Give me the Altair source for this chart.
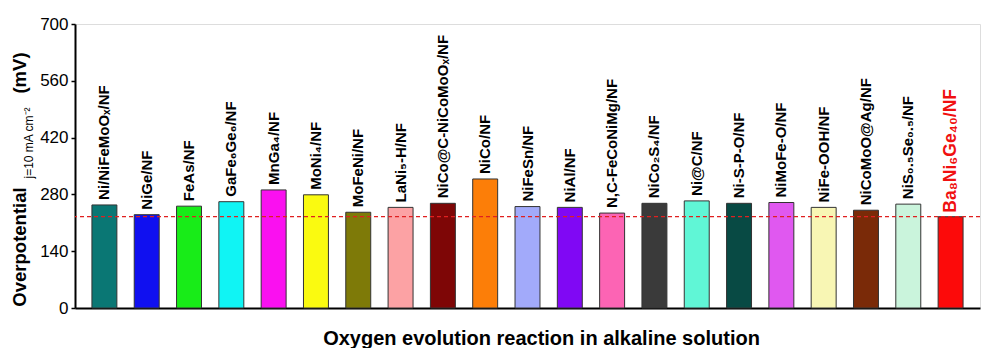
import altair as alt
import pandas as pd

labels = ["Ni/NiFeMoOₓ/NF", "NiGe/NF", "FeAs/NF", "GaFe₆Ge₆/NF", "MnGa₄/NF",
          "MoNi₄/NF", "MoFeNi/NF", "LaNi₅-H/NF", "NiCo@C-NiCoMoOₓ/NF", "NiCo/NF",
          "NiFeSn/NF", "NiAl/NF", "N,C-FeCoNiMg/NF", "NiCo₂S₄/NF", "Ni@C/NF",
          "Ni-S-P-O/NF", "NiMoFe-O/NF", "NiFe-OOH/NF", "NiCoMoO@Ag/NF",
          "NiS₀.₅Se₀.₅/NF", "Ba₈Ni₆Ge₄₀/NF"]
values = [254, 230, 251, 262, 291, 279, 236, 248, 258, 318, 250,
          248, 234, 258, 264, 258, 260, 248, 241, 256, 225]
colors = ["#0A7774", "#1010F0", "#18EC18", "#10F4F4", "#FA10F0", "#FAFA10",
          "#7E7A08", "#FCA2A4", "#7E0606", "#FC7E08", "#A2AAFA", "#8008F4",
          "#FC64B4", "#3A3A3A", "#60F6D6", "#084A44", "#E058F0", "#F8F6B4",
          "#7A2A08", "#CAF4DC", "#FC0A0A"]
ref_value = 225
y_ticks = [0, 140, 280, 420, 560, 700]

df = pd.DataFrame({"cat": labels, "val": values, "idx": list(range(len(labels)))})

FONT = "Liberation Sans"

x_enc = alt.X("cat:N", sort=labels,
              scale=alt.Scale(domain=labels, paddingInner=0.41, paddingOuter=0.40),
              axis=alt.Axis(labels=False, ticks=False, domain=True, domainColor="black",
                            domainWidth=2,
                            title="Oxygen evolution reaction in alkaline solution",
                            titleFont=FONT, titleFontSize=20, titleFontWeight="bold",
                            titleColor="black", titleX=466, titleY=36,
                            titleAlign="center", titleBaseline="alphabetic"))
y_enc = alt.Y("val:Q", scale=alt.Scale(domain=[0, 700], nice=False, zero=True),
              axis=alt.Axis(values=y_ticks, title=None, grid=False, labelFont=FONT,
                            labelFontSize=17, labelColor="black", labelPadding=3,
                            tickSize=4, tickWidth=1.5, tickColor="black",
                            domainColor="black", domainWidth=2))

base = alt.Chart(df)

bars = base.mark_bar(stroke="#333333", strokeWidth=1).encode(
    x=x_enc, y=y_enc,
    color=alt.Color("cat:N", scale=alt.Scale(domain=labels, range=colors), legend=None),
)

lbl = base.transform_filter(alt.datum.idx < 20).mark_text(
    angle=270, align="left", baseline="middle", dx=5, font=FONT, fontSize=15,
    fontWeight="bold", color="black").encode(x=alt.X("cat:N", sort=labels), y="val:Q", text="cat:N")

lbl_red = base.transform_filter(alt.datum.idx == 20).mark_text(
    angle=270, align="left", baseline="middle", dx=4, font=FONT, fontSize=17.5,
    fontWeight="bold", color="#F01010").encode(x=alt.X("cat:N", sort=labels), y="val:Q", text="cat:N")

rule = alt.Chart(pd.DataFrame({"r": [ref_value]})).mark_rule(
    color="#E02020", strokeDash=[4, 3], strokeWidth=1.2).encode(y="r:Q")

t1 = alt.Chart(pd.DataFrame({"t": ["Overpotential"]})).mark_text(
    angle=270, align="center", baseline="alphabetic", font=FONT, fontSize=18.5,
    fontWeight="bold", color="black").encode(x=alt.value(-49), y=alt.value(223), text="t:N")
t2 = alt.Chart(pd.DataFrame({"t": ["j=10 mA cm⁻²"]})).mark_text(
    angle=270, align="center", baseline="alphabetic", font=FONT, fontSize=12,
    color="black").encode(x=alt.value(-42), y=alt.value(119), text="t:N")
t3 = alt.Chart(pd.DataFrame({"t": ["(mV)"]})).mark_text(
    angle=270, align="center", baseline="alphabetic", font=FONT, fontSize=18.5,
    fontWeight="bold", color="black").encode(x=alt.value(-49), y=alt.value(49), text="t:N")

chart = alt.layer(bars, rule, lbl, lbl_red, t1, t2, t3).properties(
    width=905, height=284,
    padding={"left": 67, "top": 16, "right": 8, "bottom": 40},
    autosize=alt.AutoSizeParams(type="none"),
).configure_view(stroke="black", strokeWidth=2).configure(background="white")

chart.save("out.html", embed_options={"renderer": "svg", "actions": False})
